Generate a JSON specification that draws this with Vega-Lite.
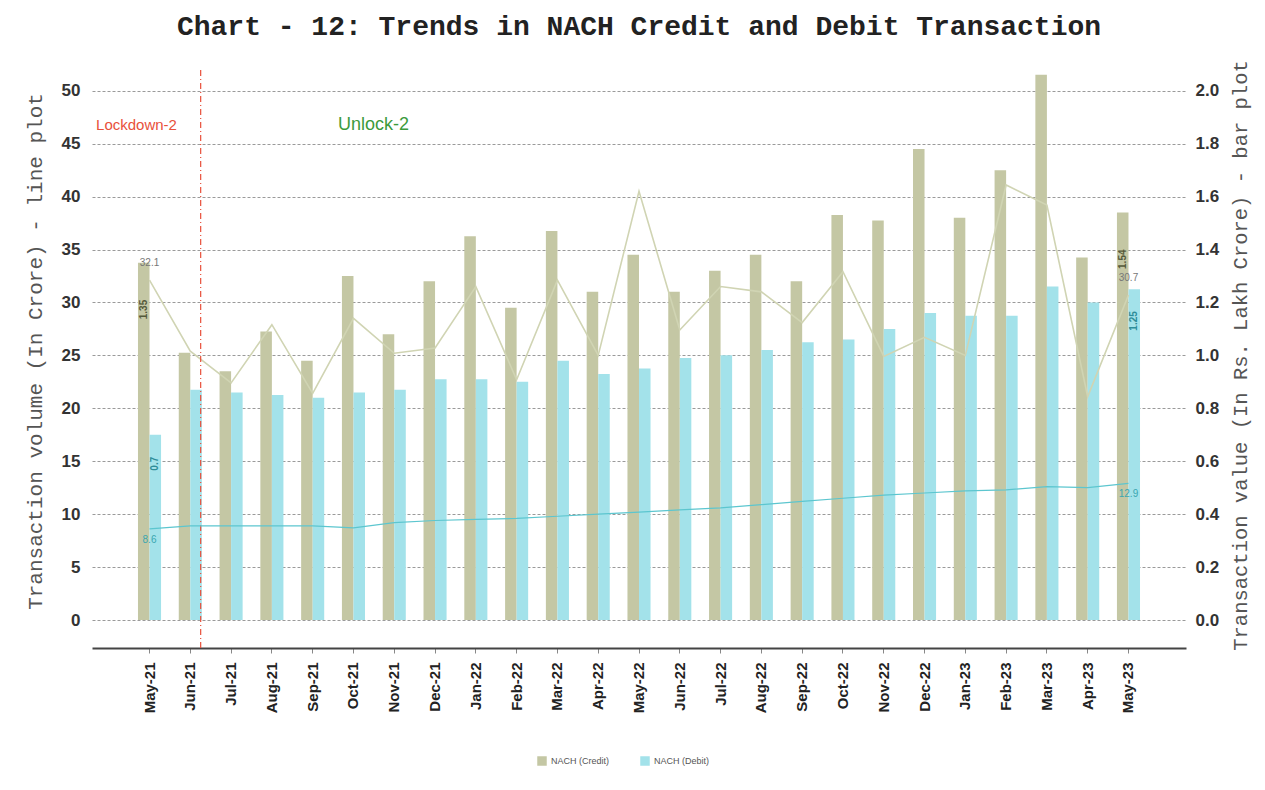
{
  "$schema": "https://vega.github.io/schema/vega-lite/v6.json",
  "width": 1094,
  "height": 578,
  "autosize": {"type": "none"},
  "padding": {"left": 92, "top": 70, "right": 79, "bottom": 142},
  "background": "white",
  "config": {"view": {"stroke": null}, "font": "Liberation Sans"},
  "title": {
    "text": "Chart - 12: Trends in NACH Credit and Debit Transaction",
    "font": "Liberation Mono",
    "fontSize": 28,
    "fontWeight": "bold",
    "color": "#222222",
    "offset": 19,
    "anchor": "middle"
  },
  "datasets": {
    "bars": [
      {"month": "May-21", "series": "NACH (Credit)", "value": 1.35},
      {"month": "Jun-21", "series": "NACH (Credit)", "value": 1.01},
      {"month": "Jul-21", "series": "NACH (Credit)", "value": 0.94},
      {"month": "Aug-21", "series": "NACH (Credit)", "value": 1.09},
      {"month": "Sep-21", "series": "NACH (Credit)", "value": 0.98},
      {"month": "Oct-21", "series": "NACH (Credit)", "value": 1.30},
      {"month": "Nov-21", "series": "NACH (Credit)", "value": 1.08},
      {"month": "Dec-21", "series": "NACH (Credit)", "value": 1.28},
      {"month": "Jan-22", "series": "NACH (Credit)", "value": 1.45},
      {"month": "Feb-22", "series": "NACH (Credit)", "value": 1.18},
      {"month": "Mar-22", "series": "NACH (Credit)", "value": 1.47},
      {"month": "Apr-22", "series": "NACH (Credit)", "value": 1.24},
      {"month": "May-22", "series": "NACH (Credit)", "value": 1.38},
      {"month": "Jun-22", "series": "NACH (Credit)", "value": 1.24},
      {"month": "Jul-22", "series": "NACH (Credit)", "value": 1.32},
      {"month": "Aug-22", "series": "NACH (Credit)", "value": 1.38},
      {"month": "Sep-22", "series": "NACH (Credit)", "value": 1.28},
      {"month": "Oct-22", "series": "NACH (Credit)", "value": 1.53},
      {"month": "Nov-22", "series": "NACH (Credit)", "value": 1.51},
      {"month": "Dec-22", "series": "NACH (Credit)", "value": 1.78},
      {"month": "Jan-23", "series": "NACH (Credit)", "value": 1.52},
      {"month": "Feb-23", "series": "NACH (Credit)", "value": 1.70},
      {"month": "Mar-23", "series": "NACH (Credit)", "value": 2.06},
      {"month": "Apr-23", "series": "NACH (Credit)", "value": 1.37},
      {"month": "May-23", "series": "NACH (Credit)", "value": 1.54},
      {"month": "May-21", "series": "NACH (Debit)", "value": 0.70},
      {"month": "Jun-21", "series": "NACH (Debit)", "value": 0.87},
      {"month": "Jul-21", "series": "NACH (Debit)", "value": 0.86},
      {"month": "Aug-21", "series": "NACH (Debit)", "value": 0.85},
      {"month": "Sep-21", "series": "NACH (Debit)", "value": 0.84},
      {"month": "Oct-21", "series": "NACH (Debit)", "value": 0.86},
      {"month": "Nov-21", "series": "NACH (Debit)", "value": 0.87},
      {"month": "Dec-21", "series": "NACH (Debit)", "value": 0.91},
      {"month": "Jan-22", "series": "NACH (Debit)", "value": 0.91},
      {"month": "Feb-22", "series": "NACH (Debit)", "value": 0.90},
      {"month": "Mar-22", "series": "NACH (Debit)", "value": 0.98},
      {"month": "Apr-22", "series": "NACH (Debit)", "value": 0.93},
      {"month": "May-22", "series": "NACH (Debit)", "value": 0.95},
      {"month": "Jun-22", "series": "NACH (Debit)", "value": 0.99},
      {"month": "Jul-22", "series": "NACH (Debit)", "value": 1.00},
      {"month": "Aug-22", "series": "NACH (Debit)", "value": 1.02},
      {"month": "Sep-22", "series": "NACH (Debit)", "value": 1.05},
      {"month": "Oct-22", "series": "NACH (Debit)", "value": 1.06},
      {"month": "Nov-22", "series": "NACH (Debit)", "value": 1.10},
      {"month": "Dec-22", "series": "NACH (Debit)", "value": 1.16},
      {"month": "Jan-23", "series": "NACH (Debit)", "value": 1.15},
      {"month": "Feb-23", "series": "NACH (Debit)", "value": 1.15},
      {"month": "Mar-23", "series": "NACH (Debit)", "value": 1.26},
      {"month": "Apr-23", "series": "NACH (Debit)", "value": 1.20},
      {"month": "May-23", "series": "NACH (Debit)", "value": 1.25}
    ],
    "volume": [
      {"month": "May-21", "credit_vol": 32.1, "debit_vol": 8.6},
      {"month": "Jun-21", "credit_vol": 25.4, "debit_vol": 8.9},
      {"month": "Jul-21", "credit_vol": 22.4, "debit_vol": 8.9},
      {"month": "Aug-21", "credit_vol": 27.9, "debit_vol": 8.9},
      {"month": "Sep-21", "credit_vol": 21.4, "debit_vol": 8.9},
      {"month": "Oct-21", "credit_vol": 28.5, "debit_vol": 8.7},
      {"month": "Nov-21", "credit_vol": 25.2, "debit_vol": 9.2},
      {"month": "Dec-21", "credit_vol": 25.7, "debit_vol": 9.4},
      {"month": "Jan-22", "credit_vol": 31.5, "debit_vol": 9.5},
      {"month": "Feb-22", "credit_vol": 22.7, "debit_vol": 9.6},
      {"month": "Mar-22", "credit_vol": 32.1, "debit_vol": 9.8},
      {"month": "Apr-22", "credit_vol": 25.0, "debit_vol": 10.0},
      {"month": "May-22", "credit_vol": 40.5, "debit_vol": 10.2},
      {"month": "Jun-22", "credit_vol": 27.4, "debit_vol": 10.4},
      {"month": "Jul-22", "credit_vol": 31.5, "debit_vol": 10.6},
      {"month": "Aug-22", "credit_vol": 31.0, "debit_vol": 10.9},
      {"month": "Sep-22", "credit_vol": 28.1, "debit_vol": 11.2},
      {"month": "Oct-22", "credit_vol": 32.9, "debit_vol": 11.5},
      {"month": "Nov-22", "credit_vol": 24.9, "debit_vol": 11.8},
      {"month": "Dec-22", "credit_vol": 26.7, "debit_vol": 12.0},
      {"month": "Jan-23", "credit_vol": 25.0, "debit_vol": 12.2},
      {"month": "Feb-23", "credit_vol": 41.1, "debit_vol": 12.3},
      {"month": "Mar-23", "credit_vol": 39.2, "debit_vol": 12.6},
      {"month": "Apr-23", "credit_vol": 21.1, "debit_vol": 12.5},
      {"month": "May-23", "credit_vol": 30.7, "debit_vol": 12.9}
    ]
  },
  "layer": [
    {
      "data": {"name": "bars"},
      "layer": [
        {
          "mark": {"type": "bar"},
          "encoding": {
            "x": {
              "field": "month",
              "type": "ordinal",
              "title": null,
              "scale": {
                "domain": ["May-21","Jun-21","Jul-21","Aug-21","Sep-21","Oct-21","Nov-21","Dec-21","Jan-22","Feb-22","Mar-22","Apr-22","May-22","Jun-22","Jul-22","Aug-22","Sep-22","Oct-22","Nov-22","Dec-22","Jan-23","Feb-23","Mar-23","Apr-23","May-23"],
                "paddingInner": 0.18,
                "paddingOuter": 1
              },
              "axis": {
                "orient": "bottom",
                "labelAngle": 270,
                "labelFont": "Liberation Sans",
                "labelFontSize": 15,
                "labelFontWeight": "bold",
                "labelColor": "#222222",
                "labelPadding": 9,
                "domainColor": "#444444",
                "domainWidth": 2,
                "tickColor": "#888888",
                "tickSize": 5,
                "grid": false
              }
            },
            "xOffset": {
              "field": "series",
              "type": "nominal",
              "scale": {"domain": ["NACH (Credit)", "NACH (Debit)"], "paddingInner": 0, "paddingOuter": 0.45}
            },
            "y": {
              "field": "value",
              "type": "quantitative",
              "title": "Transaction value (In Rs. Lakh Crore) - bar plot",
              "scale": {"domain": [-0.1058, 2.0784], "nice": false, "zero": false},
              "axis": {
                "orient": "right",
                "values": [0, 0.2, 0.4, 0.6, 0.8, 1.0, 1.2, 1.4, 1.6, 1.8, 2.0],
                "format": ".1f",
                "grid": false,
                "domain": false,
                "ticks": false,
                "labelFont": "Liberation Sans",
                "labelFontSize": 17,
                "labelFontWeight": "bold",
                "labelColor": "#333333",
                "labelPadding": 9,
                "titleFont": "Liberation Mono",
                "titleFontSize": 20.5,
                "titleFontWeight": "normal",
                "titleColor": "#555555",
                "titleAngle": 270,
                "titleBaseline": "top",
                "titlePadding": 12,
                "titleY": 285
              }
            },
            "color": {
              "field": "series",
              "type": "nominal",
              "scale": {"domain": ["NACH (Credit)", "NACH (Debit)"], "range": ["#c4c7a4", "#a3e2ea"]},
              "legend": {
                "orient": "none",
                "legendX": 445,
                "legendY": 686,
                "direction": "horizontal",
                "title": null,
                "symbolType": "square",
                "symbolSize": 90,
                "symbolStrokeWidth": 0,
                "labelFont": "Liberation Sans",
                "labelFontSize": 9,
                "labelColor": "#555555",
                "columnPadding": 30
              }
            }
          }
        },
        {
          "transform": [{"filter": {"field": "month", "oneOf": ["May-21", "May-23"]}}, {"filter": {"field": "series", "equal": "NACH (Credit)"}}],
          "mark": {"type": "text", "angle": 270, "align": "right", "baseline": "middle", "dx": -37, "fontSize": 10, "fontWeight": "bold", "color": "#55593a"},
          "encoding": {
            "x": {"field": "month", "type": "ordinal", "title": null},
            "xOffset": {"field": "series", "type": "nominal"},
            "y": {"field": "value", "type": "quantitative", "title": "Transaction value (In Rs. Lakh Crore) - bar plot"},
            "text": {"field": "value", "type": "quantitative"}
          }
        },
        {
          "transform": [{"filter": {"field": "month", "oneOf": ["May-21", "May-23"]}}, {"filter": {"field": "series", "equal": "NACH (Debit)"}}],
          "mark": {"type": "text", "angle": 270, "align": "right", "baseline": "middle", "dx": -22, "fontSize": 10, "fontWeight": "bold", "color": "#2f8d99"},
          "encoding": {
            "x": {"field": "month", "type": "ordinal", "title": null},
            "xOffset": {"field": "series", "type": "nominal"},
            "y": {"field": "value", "type": "quantitative", "title": "Transaction value (In Rs. Lakh Crore) - bar plot"},
            "text": {"field": "value", "type": "quantitative"}
          }
        }
      ]
    },
    {
      "layer": [
        {
          "data": {"name": "volume"},
          "mark": {"type": "line", "color": "#d0d4b3", "strokeWidth": 1.6},
          "encoding": {
            "x": {"field": "month", "type": "ordinal", "title": null},
            "y": {
              "field": "credit_vol",
              "type": "quantitative",
              "title": "Transaction volume (In Crore) - line plot",
              "scale": {"domain": [-2.645, 51.96], "nice": false, "zero": false},
              "axis": {
                "orient": "left",
                "values": [0, 5, 10, 15, 20, 25, 30, 35, 40, 45, 50],
                "grid": true,
                "gridDash": [3, 2],
                "gridColor": "#9a9a9a",
                "domain": false,
                "ticks": false,
                "labelFont": "Liberation Sans",
                "labelFontSize": 17,
                "labelFontWeight": "bold",
                "labelColor": "#333333",
                "labelPadding": 12,
                "titleFont": "Liberation Mono",
                "titleFontSize": 21,
                "titleFontWeight": "normal",
                "titleColor": "#555555",
                "titlePadding": 16,
                "titleY": 281
              }
            }
          }
        },
        {
          "data": {"values": [{"month": "Jun-21"}]},
          "mark": {"type": "rule", "color": "#e8503a", "strokeDash": [6, 3, 1, 3], "strokeWidth": 1.2},
          "encoding": {
            "x": {"field": "month", "type": "ordinal", "title": null, "bandPosition": 0.81}
          }
        },
        {
          "data": {"name": "volume"},
          "mark": {"type": "line", "color": "#5cc6cf", "strokeWidth": 1.2},
          "encoding": {
            "x": {"field": "month", "type": "ordinal", "title": null},
            "y": {"field": "debit_vol", "type": "quantitative", "title": "Transaction volume (In Crore) - line plot"}
          }
        },
        {
          "data": {"name": "volume"},
          "transform": [{"filter": {"field": "month", "oneOf": ["May-21", "May-23"]}}],
          "mark": {"type": "text", "dy": -17, "fontSize": 10, "color": "#777777"},
          "encoding": {
            "x": {"field": "month", "type": "ordinal", "title": null},
            "y": {"field": "credit_vol", "type": "quantitative", "title": "Transaction volume (In Crore) - line plot"},
            "text": {"field": "credit_vol", "type": "quantitative", "format": ".1f"}
          }
        },
        {
          "data": {"name": "volume"},
          "transform": [{"filter": {"field": "month", "oneOf": ["May-21", "May-23"]}}],
          "mark": {"type": "text", "dy": 11, "fontSize": 10, "color": "#3aa6b0"},
          "encoding": {
            "x": {"field": "month", "type": "ordinal", "title": null},
            "y": {"field": "debit_vol", "type": "quantitative", "title": "Transaction volume (In Crore) - line plot"},
            "text": {"field": "debit_vol", "type": "quantitative", "format": ".1f"}
          }
        },
        {
          "data": {"values": [{"month": "May-21", "pos": 46.76, "label": "Lockdown-2"}]},
          "mark": {"type": "text", "dx": -13, "fontSize": 15, "color": "#e8503a"},
          "encoding": {
            "x": {"field": "month", "type": "ordinal", "title": null},
            "y": {"field": "pos", "type": "quantitative", "title": "Transaction volume (In Crore) - line plot"},
            "text": {"field": "label"}
          }
        },
        {
          "data": {"values": [{"month": "Oct-21", "pos": 46.76, "label": "Unlock-2"}]},
          "mark": {"type": "text", "dx": 20, "fontSize": 18, "color": "#3c9a3c"},
          "encoding": {
            "x": {"field": "month", "type": "ordinal", "title": null},
            "y": {"field": "pos", "type": "quantitative", "title": "Transaction volume (In Crore) - line plot"},
            "text": {"field": "label"}
          }
        }
      ]
    }
  ],
  "resolve": {"scale": {"y": "independent"}}
}
